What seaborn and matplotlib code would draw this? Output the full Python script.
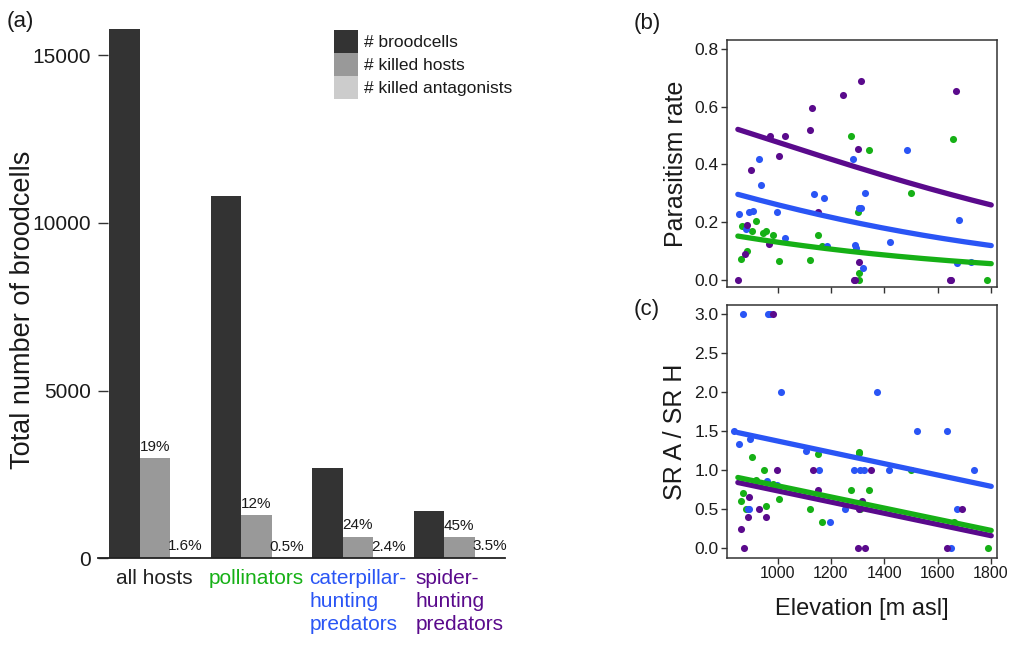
import numpy as np
import pandas as pd
import matplotlib
matplotlib.use("Agg")
import matplotlib.pyplot as plt
from matplotlib.patches import Patch
import seaborn as sns

# ---------------- data ----------------
groups = ["all hosts", "pollinators", "caterpillar-\nhunting\npredators", "spider-\nhunting\npredators"]
measures = ["# broodcells", "# killed hosts", "# killed antagonists"]
broodcells = [15770, 10800, 2700, 1410]
killed_hosts = [2990, 1295, 648, 634]
killed_antagonists = [48, 6, 16, 22]
pct_hosts = ["19%", "12%", "24%", "45%"]
pct_antagonists = ["1.6%", "0.5%", "2.4%", "3.5%"]

# panel (b): parasitism rate per site
poll_b_elev = [864, 866, 884, 904, 919, 947, 957, 981, 1007, 1122, 1151, 1167, 1274, 1301, 1305, 1306, 1344, 1499, 1659, 1786]
poll_b_rate = [0.07, 0.185, 0.10, 0.17, 0.204, 0.162, 0.17, 0.153, 0.066, 0.067, 0.153, 0.118, 0.50, 0.235, 0.024, 0.0, 0.45, 0.30, 0.49, 0.0]
cat_b_elev = [855, 882, 891, 907, 929, 937, 997, 1029, 1137, 1174, 1185, 1282, 1291, 1294, 1306, 1311, 1322, 1326, 1421, 1484, 1674, 1681, 1725]
cat_b_rate = [0.228, 0.174, 0.234, 0.239, 0.42, 0.33, 0.234, 0.143, 0.298, 0.284, 0.116, 0.418, 0.12, 0.11, 0.25, 0.25, 0.04, 0.30, 0.132, 0.45, 0.056, 0.207, 0.06]
spi_b_elev = [851, 879, 887, 900, 966, 972, 1006, 1026, 1122, 1129, 1151, 1247, 1285, 1291, 1302, 1306, 1314, 1647, 1651, 1669]
spi_b_rate = [0.0, 0.09, 0.19, 0.38, 0.123, 0.50, 0.43, 0.50, 0.52, 0.596, 0.234, 0.64, 0.0, 0.0, 0.453, 0.06, 0.69, 0.0, 0.0, 0.654]

# panel (c): species richness ratio antagonists / hosts
poll_c_elev = [864, 869, 883, 904, 918, 948, 957, 981, 1007, 1122, 1151, 1167, 1274, 1304, 1306, 1310, 1344, 1499, 1660, 1789]
poll_c_ratio = [0.60, 0.70, 0.5, 1.165, 0.875, 1.0, 0.54, 0.82, 0.63, 0.5, 1.2, 0.33, 0.75, 1.22, 1.23, 0.5, 0.75, 1.0, 0.33, 0.0]
cat_c_elev = [837, 855, 869, 889, 894, 896, 961, 964, 970, 999, 1012, 1107, 1157, 1195, 1251, 1285, 1310, 1324, 1371, 1419, 1522, 1637, 1650, 1672, 1735]
cat_c_ratio = [1.5, 1.33, 3.0, 0.5, 0.5, 1.40, 0.86, 3.0, 3.0, 0.81, 2.0, 1.25, 1.0, 0.33, 0.5, 1.0, 1.0, 1.0, 2.0, 1.0, 1.5, 1.5, 0.0, 0.5, 1.0]
spi_c_elev = [861, 874, 889, 892, 929, 957, 981, 996, 1131, 1151, 1301, 1304, 1316, 1326, 1351, 1635, 1691]
spi_c_ratio = [0.25, 0.0, 0.40, 0.66, 0.5, 0.40, 3.0, 1.0, 1.0, 0.75, 0.0, 0.5, 0.6, 0.0, 1.0, 0.0, 0.5]

# fitted models: logistic (b) and linear (c), order: pollinators, caterpillar, spider
fit_range = [851, 1801]
logit_intercept = [-0.727, 0.160, 1.107]
logit_slope = [-0.001175, -0.001206, -0.001198]
lin_intercept = [1.513, 2.098, 1.451]
lin_slope = [-0.000715, -0.000726, -0.000718]

# ---------------- style ----------------
sns.set_theme(style="ticks")
plt.rcParams["font.family"] = ["Liberation Sans", "DejaVu Sans"]

c_poll = "#16b016"
c_cat = "#2a55f5"
c_spi = "#5a0a8c"
group_colors = ["#222222", c_poll, c_cat, c_spi]
bar_colors = ["#333333", "#999999", "#cccccc"]
txt = "#1a1a1a"

fig = plt.figure(figsize=(10.11, 6.53), dpi=100)
ax_a = fig.add_axes([0.0969, 0.145, 0.4026, 0.8218])
ax_b = fig.add_axes([0.719, 0.5605, 0.267, 0.378])
ax_c = fig.add_axes([0.719, 0.1455, 0.267, 0.3874])

# ---------------- panel (a) ----------------
df = pd.DataFrame({
    "group": np.repeat(groups, 3),
    "measure": measures * 4,
    "count": np.ravel(np.column_stack([broodcells, killed_hosts, killed_antagonists])),
})
sns.barplot(data=df, x="group", y="count", hue="measure", order=groups, hue_order=measures,
            palette=bar_colors, width=0.9, gap=0, saturation=1, errorbar=None,
            linewidth=0, legend=False, ax=ax_a)
ax_a.bar_label(ax_a.containers[1], labels=pct_hosts, padding=3, fontsize=11, color=txt)
ax_a.bar_label(ax_a.containers[2], labels=pct_antagonists, padding=3, fontsize=11, color=txt)

ax_a.set_xlim(-0.56, 3.45)
ax_a.set_ylim(0, 16000)
ax_a.set_yticks([0, 5000, 10000, 15000])
ax_a.tick_params(axis="y", direction="in", length=7.5, width=1, color="#333333",
                 labelsize=15, pad=5, labelcolor=txt)
ax_a.tick_params(axis="x", length=0, pad=8, labelsize=15)
for lab, col in zip(ax_a.get_xticklabels(), group_colors):
    lab.set_color(col)
    lab.set_multialignment("left")
    lab.set_verticalalignment("top")
    lab.set_linespacing(1.25)
for side in ["left", "top", "right"]:
    ax_a.spines[side].set_visible(False)
ax_a.spines["bottom"].set_color("#222222")
ax_a.spines["bottom"].set_linewidth(1.3)
ax_a.set_xlabel("")
ax_a.set_ylabel("Total number of broodcells", fontsize=19.5, color=txt)
ax_a.yaxis.set_label_coords(-0.152, 0.463)

handles = [Patch(facecolor=c, edgecolor="none", label=m) for c, m in zip(bar_colors, measures)]
fig.legend(handles=handles, loc="upper left", bbox_to_anchor=(0.3304, 0.954),
           bbox_transform=fig.transFigure, frameon=False, fontsize=12.5,
           handlelength=1.38, handleheight=1.67, labelspacing=0, handletextpad=0.35,
           borderpad=0, borderaxespad=0, labelcolor=txt)

# ---------------- panels (b) and (c) ----------------
xgrid = np.linspace(fit_range[0], fit_range[1], 200)
cols = [c_poll, c_cat, c_spi]

b_sets = [(poll_b_elev, poll_b_rate), (cat_b_elev, cat_b_rate), (spi_b_elev, spi_b_rate)]
c_sets = [(poll_c_elev, poll_c_ratio), (cat_c_elev, cat_c_ratio), (spi_c_elev, spi_c_ratio)]

for (xs, ys), col in zip(b_sets, cols):
    sns.scatterplot(x=xs, y=ys, color=col, s=26, linewidth=0, ax=ax_b, zorder=3)
for (xs, ys), col in zip(c_sets, cols):
    sns.scatterplot(x=xs, y=ys, color=col, s=26, linewidth=0, ax=ax_c, zorder=3)

for i in [2, 1, 0]:
    p = 1.0 / (1.0 + np.exp(-(logit_intercept[i] + logit_slope[i] * xgrid)))
    sns.lineplot(x=xgrid, y=p, color=cols[i], linewidth=3.8, ax=ax_b, zorder=4)
    q = lin_intercept[i] + lin_slope[i] * xgrid
    sns.lineplot(x=xgrid, y=q, color=cols[i], linewidth=3.8, ax=ax_c, zorder=4)

ax_b.set_ylim(-0.026, 0.832)
ax_b.set_yticks([0.0, 0.2, 0.4, 0.6, 0.8])
ax_b.set_yticklabels(["0.0", "0.2", "0.4", "0.6", "0.8"])
ax_c.set_ylim(-0.128, 3.116)
ax_c.set_yticks([0.0, 0.5, 1.0, 1.5, 2.0, 2.5, 3.0])
ax_c.set_yticklabels(["0.0", "0.5", "1.0", "1.5", "2.0", "2.5", "3.0"])
for ax in (ax_b, ax_c):
    ax.set_xlim(810, 1822)
    ax.set_xticks([1000, 1200, 1400, 1600, 1800])
    ax.tick_params(direction="out", length=4, width=1, color="#333333",
                   labelsize=12.5, pad=2, labelcolor=txt)
    for s in ax.spines.values():
        s.set_color("#333333")
        s.set_linewidth(1.1)
        s.set_visible(True)
ax_c.tick_params(axis="x", labelsize=11.5)
ax_b.set_xticklabels([])
ax_b.set_ylabel("Parasitism rate", fontsize=18, color=txt, labelpad=5)
ax_c.set_ylabel("SR A / SR H", fontsize=18, color=txt, labelpad=5)
ax_c.set_xlabel("Elevation [m asl]", fontsize=17, color=txt, labelpad=12)

# panel tags
fig.text(7 / 1011, 1 - 22 / 653, "(a)", fontsize=16, va="center", color=txt)
fig.text(634 / 1011, 1 - 23 / 653, "(b)", fontsize=16, va="center", color=txt)
fig.text(634 / 1011, 1 - 310 / 653, "(c)", fontsize=16, va="center", color=txt)

fig.savefig("out.png", dpi=100)
